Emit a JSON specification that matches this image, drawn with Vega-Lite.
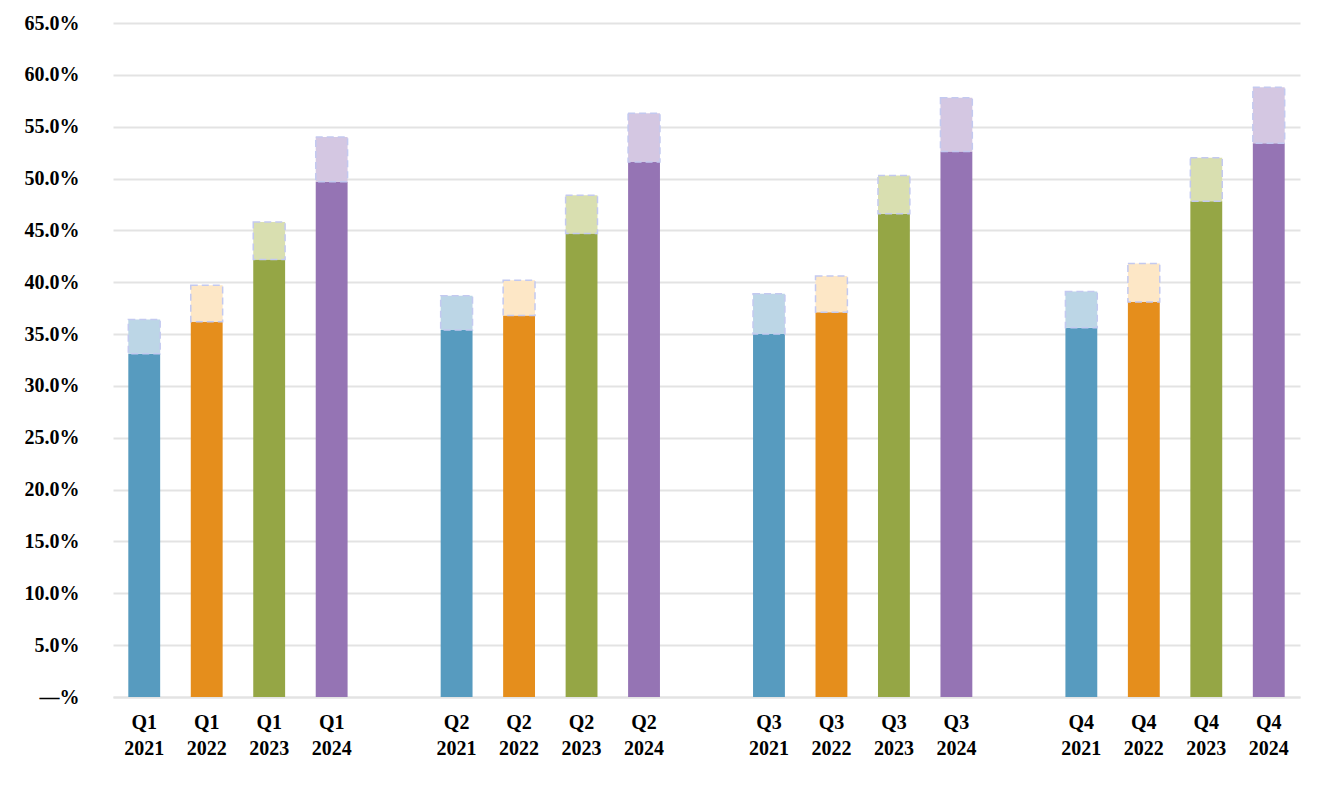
{
  "$schema": "https://vega.github.io/schema/vega-lite/v6.json",
  "width": 1187,
  "height": 674,
  "autosize": {"type": "none"},
  "padding": {"left": 113, "top": 23, "right": 24, "bottom": 89},
  "background": "white",
  "config": {
    "view": {"stroke": null},
    "font": "Liberation Serif",
    "axis": {"labelFont": "Liberation Serif", "labelFontWeight": "bold", "labelColor": "#000000", "labelFontSize": 20}
  },
  "data": {
    "values": [
      {"period": "Q1 2021", "year": "2021", "base": 0.331, "top": 0.364},
      {"period": "Q1 2022", "year": "2022", "base": 0.362, "top": 0.397},
      {"period": "Q1 2023", "year": "2023", "base": 0.422, "top": 0.458},
      {"period": "Q1 2024", "year": "2024", "base": 0.497, "top": 0.540},
      {"period": "Q2 2021", "year": "2021", "base": 0.354, "top": 0.387},
      {"period": "Q2 2022", "year": "2022", "base": 0.368, "top": 0.402},
      {"period": "Q2 2023", "year": "2023", "base": 0.447, "top": 0.484},
      {"period": "Q2 2024", "year": "2024", "base": 0.516, "top": 0.563},
      {"period": "Q3 2021", "year": "2021", "base": 0.350, "top": 0.389},
      {"period": "Q3 2022", "year": "2022", "base": 0.371, "top": 0.406},
      {"period": "Q3 2023", "year": "2023", "base": 0.466, "top": 0.503},
      {"period": "Q3 2024", "year": "2024", "base": 0.526, "top": 0.578},
      {"period": "Q4 2021", "year": "2021", "base": 0.356, "top": 0.391},
      {"period": "Q4 2022", "year": "2022", "base": 0.381, "top": 0.418},
      {"period": "Q4 2023", "year": "2023", "base": 0.478, "top": 0.520},
      {"period": "Q4 2024", "year": "2024", "base": 0.534, "top": 0.588}
    ]
  },
  "encoding": {
    "x": {
      "field": "period",
      "type": "ordinal",
      "title": null,
      "scale": {
        "domain": ["Q1 2021", "Q1 2022", "Q1 2023", "Q1 2024", "gap1",
                   "Q2 2021", "Q2 2022", "Q2 2023", "Q2 2024", "gap2",
                   "Q3 2021", "Q3 2022", "Q3 2023", "Q3 2024", "gap3",
                   "Q4 2021", "Q4 2022", "Q4 2023", "Q4 2024"],
        "paddingInner": 0.49,
        "paddingOuter": 0.245
      },
      "axis": {
        "labelAngle": 0,
        "ticks": false,
        "domain": true,
        "domainColor": "#e3e3e3",
        "domainWidth": 2,
        "labelPadding": 15,
        "labelLineHeight": 26,
        "labelExpr": "indexof(datum.value, 'gap') >= 0 ? '' : split(datum.value, ' ')"
      }
    }
  },
  "layer": [
    {
      "mark": {"type": "bar"},
      "encoding": {
        "y": {
          "field": "base",
          "type": "quantitative",
          "title": null,
          "scale": {"domain": [0, 0.65], "nice": false},
          "axis": {
            "values": [0, 0.05, 0.1, 0.15, 0.2, 0.25, 0.3, 0.35, 0.4, 0.45, 0.5, 0.55, 0.6, 0.65],
            "labelExpr": "datum.value == 0 ? '\u2014%' : format(datum.value, '.1%')",
            "ticks": false,
            "domain": false,
            "grid": true,
            "gridColor": "#e3e3e3",
            "gridWidth": 2,
            "labelPadding": 34
          }
        },
        "color": {
          "field": "year",
          "type": "nominal",
          "legend": null,
          "scale": {"domain": ["2021", "2022", "2023", "2024"], "range": ["#579bbf", "#e58e1c", "#95a645", "#9574b4"]}
        }
      }
    },
    {
      "mark": {"type": "bar", "stroke": "#c3c9f0", "strokeWidth": 1.5, "strokeDash": [7, 4]},
      "encoding": {
        "y": {"field": "base", "type": "quantitative"},
        "y2": {"field": "top"},
        "fill": {
          "field": "year",
          "type": "nominal",
          "legend": null,
          "scale": {"domain": ["2021", "2022", "2023", "2024"], "range": ["#bcd6e6", "#fde7c6", "#d9dfb0", "#d4c7e2"]}
        }
      }
    }
  ]
}
